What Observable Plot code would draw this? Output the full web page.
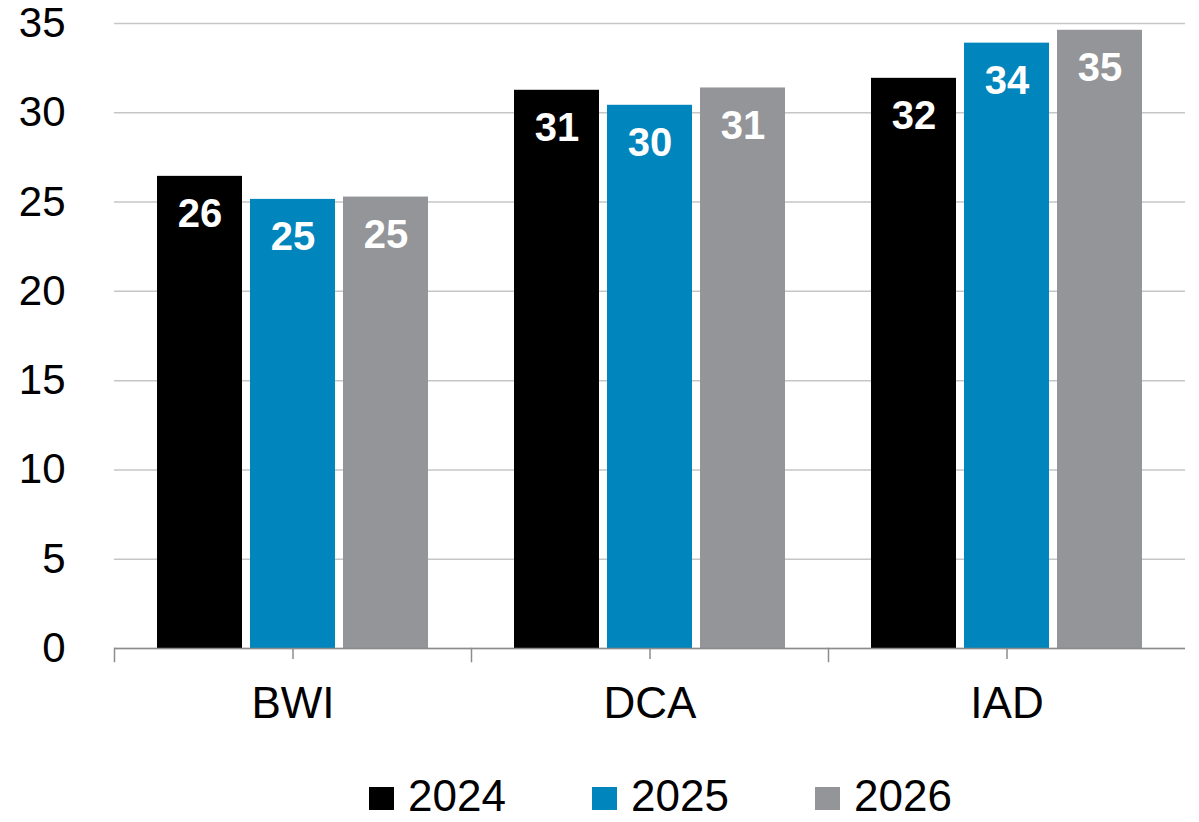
<!DOCTYPE html>
<html>
<head>
<meta charset="utf-8">
<script src="https://cdn.jsdelivr.net/npm/d3@7"></script>
<script src="https://cdn.jsdelivr.net/npm/@observablehq/plot@0.6"></script>
<style>
  html, body { margin: 0; padding: 0; background: #fff; }
  body { font-family: "Liberation Sans", Arial, sans-serif; width: 1199px; }
  #legend { display: flex; height: 30px; margin-top: 41px; padding-left: 369px; }
  .item { display: flex; align-items: center; width: 223px; flex: none; height: 30px; }
  .sw { width: 25px; height: 23px; margin-right: 14px; flex: none; position: relative; top: 2px; }
  .lab { font-size: 44px; line-height: 30px; height: 30px; color: #000; }
</style>
</head>
<body>
<div id="chart"></div>
<div id="legend"></div>
<script>
const airports = ["BWI", "DCA", "IAD"];
const years = ["2024", "2025", "2026"];
const values2024 = [26.44, 31.26, 31.93];
const values2025 = [25.15, 30.42, 33.90];
const values2026 = [25.28, 31.39, 34.62];
const colors = ["#000000", "#0085bd", "#939598"];
const yTicks = [0, 5, 10, 15, 20, 25, 30, 35];

const series = [values2024, values2025, values2026];
const data = [];
airports.forEach((a, i) => {
  years.forEach((y, j) => {
    data.push({airport: a, year: y, value: series[j][i]});
  });
});

const font = '"Liberation Sans", Arial, sans-serif';
const axisGray = "#8c8c8c";

const plot = Plot.plot({
  width: 1199,
  height: 740,
  marginLeft: 114,
  marginRight: 14,
  marginTop: 23,
  marginBottom: 92,
  style: {fontFamily: font, background: "white", color: "black"},
  fx: {domain: airports, padding: 0},
  x: {domain: years, paddingInner: 0.091, paddingOuter: 0.4545, axis: null},
  y: {domain: [0, 35]},
  color: {domain: years, range: colors},
  marks: [
    Plot.gridY(yTicks, {stroke: "#c6c6c6", strokeOpacity: 1, strokeWidth: 1.5}),
    Plot.barY(data, {fx: "airport", x: "year", y: "value", fill: "year"}),
    Plot.ruleY([0], {stroke: axisGray, strokeWidth: 1.5}),
    Plot.frame({anchor: "left", stroke: axisGray, strokeWidth: 1.5, insetTop: 625, insetBottom: -13}),
    Plot.text(data, {
      fx: "airport", x: "year", y: "value",
      text: d => d3.format(".0f")(d.value),
      dy: 38, fill: "white", fontWeight: "bold", fontSize: 40, fontFamily: font
    }),
    Plot.axisY(yTicks, {tickSize: 0, tickPadding: 49, fontSize: 42, label: null, fill: "black"}),
    Plot.axisFx({anchor: "bottom", tickSize: 11, tickPadding: 27, fontSize: 44, label: null,
                 stroke: axisGray, strokeWidth: 1.5, fill: "black"})
  ]
});
document.getElementById("chart").appendChild(plot);

const legend = document.getElementById("legend");
years.forEach((y, i) => {
  const item = document.createElement("div");
  item.className = "item";
  const sw = document.createElement("div");
  sw.className = "sw";
  sw.style.background = colors[i];
  const lab = document.createElement("div");
  lab.className = "lab";
  lab.textContent = y;
  item.appendChild(sw);
  item.appendChild(lab);
  legend.appendChild(item);
});
</script>
</body>
</html>
